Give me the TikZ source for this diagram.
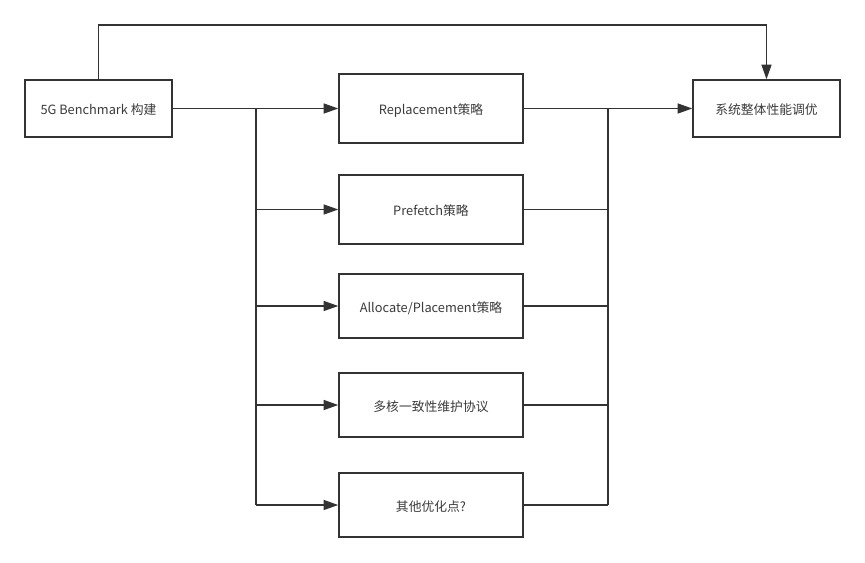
\documentclass[tikz,border=0pt]{standalone}
\usepackage{fontspec}
\setmainfont{Noto Sans CJK SC}
\usetikzlibrary{arrows.meta}
\definecolor{ink}{HTML}{333333}
\definecolor{txt}{HTML}{3A3A3A}
\tikzset{
  box/.style={draw=ink, line width=1.1pt, text=txt, font=\fontsize{9.6pt}{11pt}\selectfont, inner sep=0pt, align=center, text height=9.5pt, text depth=0pt},
  conn/.style={draw=ink, line width=1.1pt},
  arr/.style={conn, -{Triangle[length=11pt,width=7.5pt]}}
}
\begin{document}
\begin{tikzpicture}[x=0.75pt,y=-0.75pt]
\useasboundingbox (0,0) rectangle (865,562);
% left and right boxes
\node[box, minimum width=147*0.75pt, minimum height=57*0.75pt] (A) at (98.5,108.5) {5G Benchmark 构建};
\node[box, minimum width=147*0.75pt, minimum height=57*0.75pt] (F) at (766.5,108.5) {系统整体性能调优};
% middle boxes
\node[box, minimum width=184*0.75pt, minimum height=69*0.75pt] (R) at (431,108.5) {Replacement策略};
\node[box, minimum width=184*0.75pt, minimum height=69*0.75pt] (P) at (431,209.5) {Prefetch策略};
\node[box, minimum width=184*0.75pt, minimum height=64*0.75pt] (L) at (431,306) {Allocate/Placement策略};
\node[box, minimum width=184*0.75pt, minimum height=64*0.75pt] (M) at (431,405) {多核一致性维护协议};
\node[box, minimum width=184*0.75pt, minimum height=64*0.75pt] (O) at (431,505) {其他优化点?};
% buses
\coordinate (lt) at (256,108.5);
\coordinate (lb) at (256,505);
\coordinate (rt) at (608,108.5);
\coordinate (rb) at (608,505);
\coordinate (top) at (98.5,25);
\draw[conn] (lt) -- (lb);
\draw[conn] (rt) -- (rb);
% left side arrows
\draw[arr] (A.east) -- (R.west);
\draw[arr] (P.west -| lt) -- (P.west);
\draw[arr] (L.west -| lt) -- (L.west);
\draw[arr] (M.west -| lt) -- (M.west);
\draw[arr] (O.west -| lt) -- (O.west);
% right side
\draw[arr] (R.east) -- (F.west);
\draw[conn] (P.east) -- (P.east -| rt);
\draw[conn] (L.east) -- (L.east -| rt);
\draw[conn] (M.east) -- (M.east -| rt);
\draw[conn] (O.east) -- (O.east -| rt);
% top loop
\draw[arr] (A.north) -- (top) -| (F.north);
\end{tikzpicture}
\end{document}
